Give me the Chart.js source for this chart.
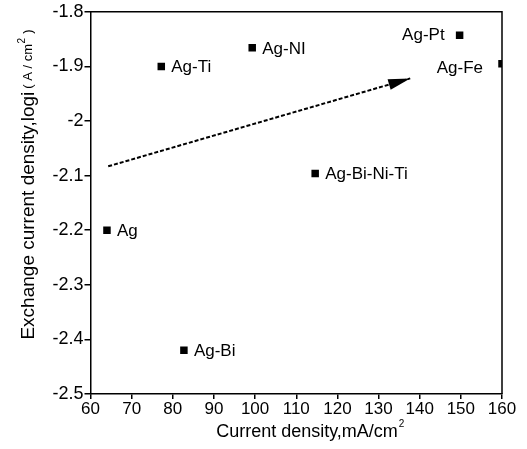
<!DOCTYPE html>
<html>
<head>
<meta charset="utf-8">
<script src="https://cdn.jsdelivr.net/npm/chart.js@4"></script>
<style>
  html, body { margin: 0; padding: 0; background: #fff; }
  #wrap { width: 527px; height: 449px; }
</style>
</head>
<body>
<div id="wrap"><canvas id="chart" width="527" height="449"></canvas></div>
<script>
// alloy electrodes: current density vs exchange current density (log i)
const alloys = ['Ag', 'Ag-Ti', 'Ag-Bi', 'Ag-NI', 'Ag-Pt', 'Ag-Fe', 'Ag-Bi-Ni-Ti'];
const currentDensity = [64, 77.2, 82.7, 99.3, 149.7, 160, 114.6];
const exchangeLogI = [-2.2, -1.9, -2.42, -1.866, -1.843, -1.895, -2.096];

// trend arrow (start, tip)
const arrowX = [64.3, 137.7];
const arrowY = [-2.083, -1.922];

const xTicks = [60, 70, 80, 90, 100, 110, 120, 130, 140, 150, 160];
const yTicks = [-1.8, -1.9, -2, -2.1, -2.2, -2.3, -2.4, -2.5];

const FONT = '"Liberation Sans", Arial, sans-serif';

// label placement per alloy: [dx, dy, align]
const labelPlace = {
  'Ag-Pt': [-15, 0, 'right'],
  'Ag-Fe': [-19, 5, 'right']
};

const extras = {
  id: 'extras',
  afterDatasetsDraw(chart) {
    const { ctx, chartArea: a, scales: { x, y } } = chart;
    ctx.save();

    // frame on top / right
    ctx.strokeStyle = '#000';
    ctx.lineWidth = 1.5;
    ctx.beginPath();
    ctx.moveTo(a.left, a.top);
    ctx.lineTo(a.right, a.top);
    ctx.lineTo(a.right, a.bottom);
    ctx.stroke();

    // arrow head
    const x0 = x.getPixelForValue(arrowX[0]), y0 = y.getPixelForValue(arrowY[0]);
    const x1 = x.getPixelForValue(arrowX[1]), y1 = y.getPixelForValue(arrowY[1]);
    const ang = Math.atan2(y1 - y0, x1 - x0);
    const len = 22, half = 5.5;
    const bx = x1 - len * Math.cos(ang), by = y1 - len * Math.sin(ang);
    ctx.fillStyle = '#000';
    ctx.beginPath();
    ctx.moveTo(x1, y1);
    ctx.lineTo(bx + half * Math.sin(ang), by - half * Math.cos(ang));
    ctx.lineTo(bx - half * Math.sin(ang), by + half * Math.cos(ang));
    ctx.closePath();
    ctx.fill();

    // point labels
    ctx.font = '17px ' + FONT;
    ctx.textBaseline = 'middle';
    alloys.forEach((name, i) => {
      const px = x.getPixelForValue(currentDensity[i]);
      const py = y.getPixelForValue(exchangeLogI[i]);
      const [dx, dy, align] = labelPlace[name] || [10, 1, 'left'];
      ctx.textAlign = align;
      ctx.fillText(name, px + dx, py + dy);
    });

    // x axis title with superscript
    ctx.textAlign = 'left';
    ctx.textBaseline = 'middle';
    ctx.font = '18px ' + FONT;
    const xt = 'Current density,mA/cm';
    const xw = ctx.measureText(xt).width;
    const xs = 310 - (xw + 6) / 2;
    ctx.fillText(xt, xs, 432);
    ctx.font = '10px ' + FONT;
    ctx.fillText('2', xs + xw + 1, 424);

    // y axis title (rotated, smaller unit part)
    ctx.translate(29, 185);
    ctx.rotate(-Math.PI / 2);
    ctx.font = '19px ' + FONT;
    const main = 'Exchange current density,logi';
    const w = ctx.measureText(main).width;
    ctx.font = '13px ' + FONT;
    const unitA = '( A / cm', unitB = ' )';
    const wa = ctx.measureText(unitA).width, wb = ctx.measureText(unitB).width;
    ctx.font = '10px ' + FONT;
    const ws = ctx.measureText('2').width;
    let sx = -(w + 3 + wa + ws + wb) / 2;
    ctx.font = '19px ' + FONT;
    ctx.fillText(main, sx, 0);
    sx += w + 3;
    ctx.font = '13px ' + FONT;
    ctx.fillText(unitA, sx, -1);
    sx += wa;
    ctx.font = '10px ' + FONT;
    ctx.fillText('2', sx + 0.5, -7);
    sx += ws + 1;
    ctx.font = '13px ' + FONT;
    ctx.fillText(unitB, sx, -1);

    ctx.restore();
  }
};

const axisGrid = { display: true, drawOnChartArea: false, drawTicks: true, tickLength: 6, color: '#000', lineWidth: 1.5 };

new Chart(document.getElementById('chart'), {
  type: 'scatter',
  data: {
    datasets: [
      {
        data: currentDensity.map((v, i) => ({ x: v, y: exchangeLogI[i] })),
        pointStyle: 'rect',
        pointRadius: 5.3,
        backgroundColor: '#000',
        borderColor: '#000',
        borderWidth: 0
      },
      {
        type: 'line',
        data: arrowX.map((v, i) => ({ x: v, y: arrowY[i] })),
        borderColor: '#000',
        borderWidth: 2,
        borderDash: [4, 2],
        pointRadius: 0,
        fill: false
      }
    ]
  },
  options: {
    responsive: false,
    animation: false,
    layout: { padding: { top: 11, right: 25, left: 0, bottom: 0 } },
    plugins: { legend: { display: false }, tooltip: { enabled: false } },
    scales: {
      x: {
        type: 'linear',
        min: 60, max: 160,
        afterBuildTicks: (s) => { s.ticks = xTicks.map(v => ({ value: v })); },
        afterFit: (s) => { s.height = 55; },
        grid: { ...axisGrid, tickLength: 5 },
        border: { color: '#000', width: 1.5 },
        ticks: { color: '#000', font: { family: FONT, size: 17 }, padding: 0, maxRotation: 0, autoSkip: false }
      },
      y: {
        type: 'linear',
        min: -2.5, max: -1.8,
        afterBuildTicks: (s) => { s.ticks = yTicks.map(v => ({ value: v })); },
        afterFit: (s) => { s.width = 90.5; },
        grid: axisGrid,
        border: { color: '#000', width: 1.5 },
        ticks: { color: '#000', font: { family: FONT, size: 18 }, padding: 1, autoSkip: false, callback: (v) => String(v) }
      }
    }
  },
  plugins: [extras]
});
</script>
</body>
</html>
